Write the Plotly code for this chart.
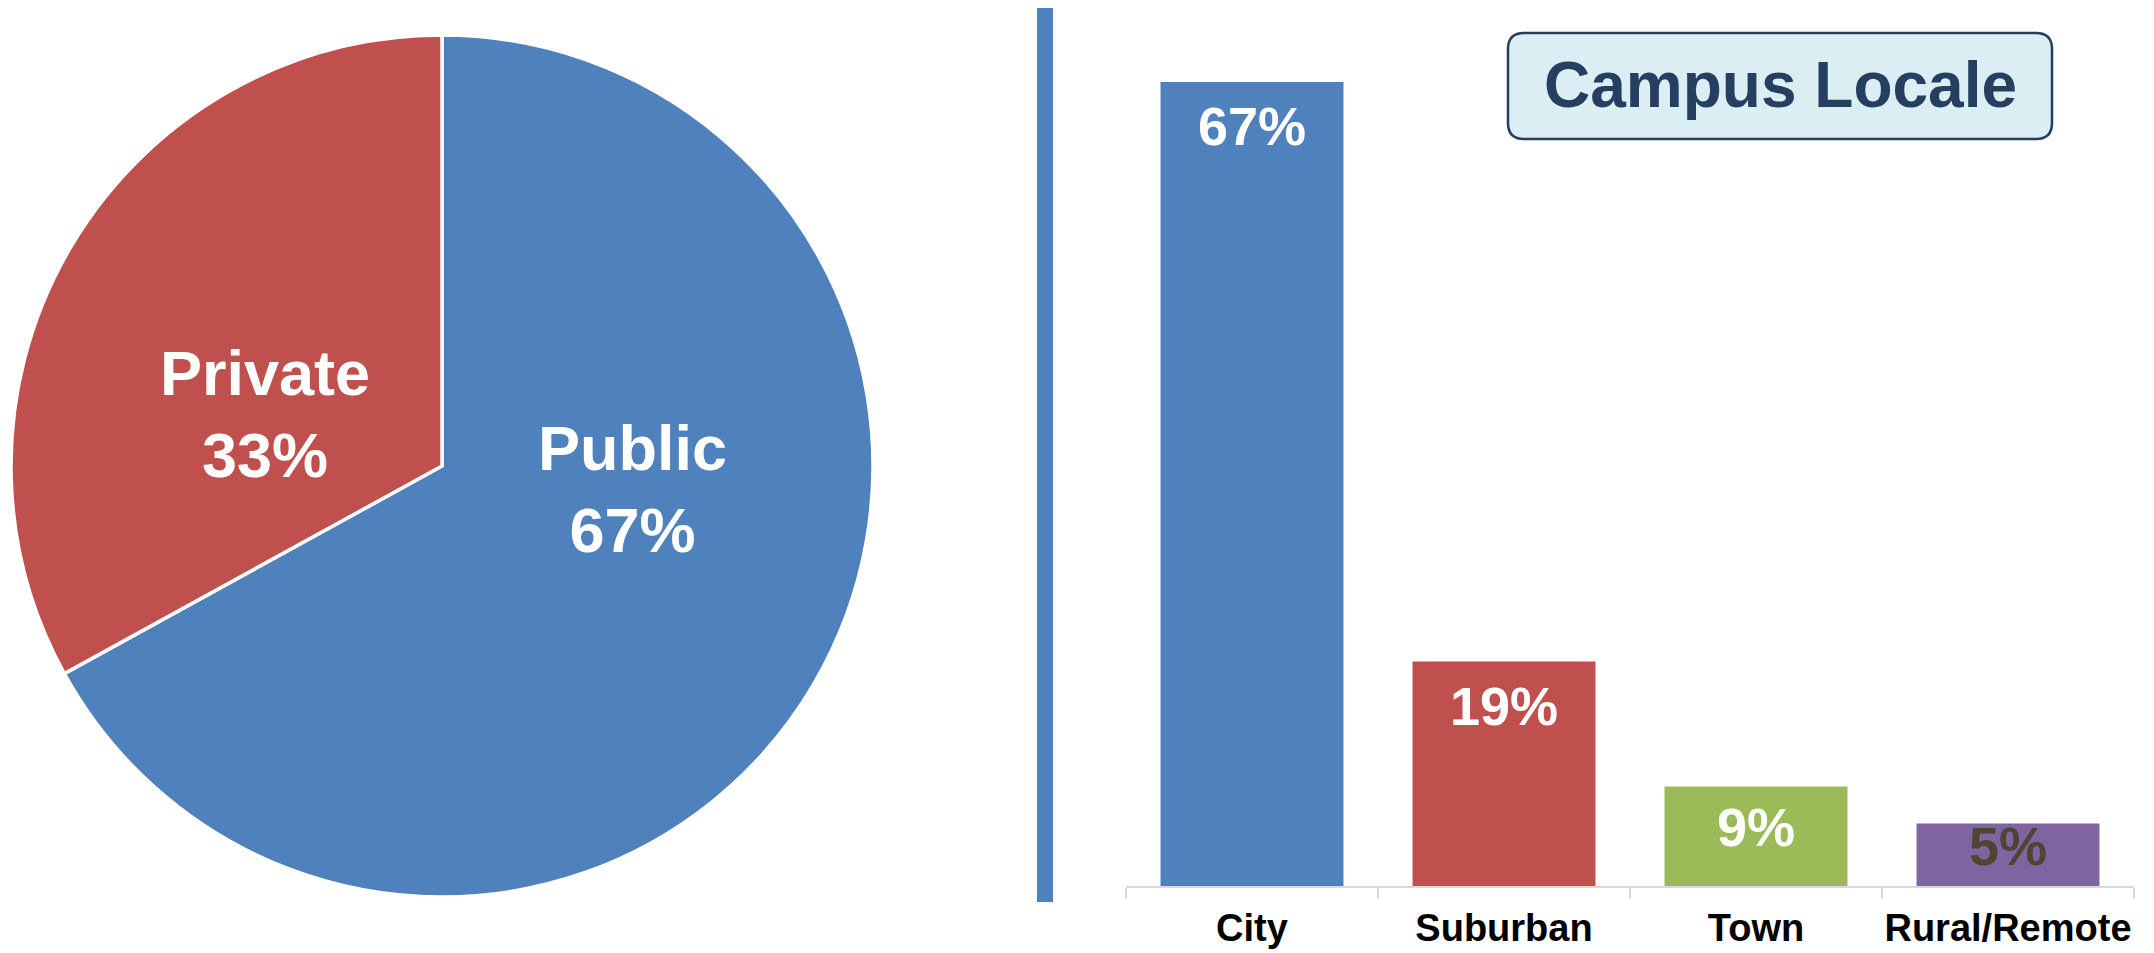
import plotly.graph_objects as go

W, H = 2154, 953

# ---- data ----
pie_labels = ["Public", "Private"]
pie_values = [67, 33]
pie_colors = ["#4F81BD", "#C0504D"]

bar_categories = ["City", "Suburban", "Town", "Rural/Remote"]
bar_values = [67, 18.7, 8.3, 5.2]
bar_text = ["67%", "19%", "9%", "5%"]
bar_colors = ["#4F81BD", "#C0504D", "#9BBB59", "#8064A2"]
bar_text_colors = ["white", "white", "white", "#4D4632"]

title_text = "Campus Locale"

FONT = "Liberation Sans, Arial, Helvetica, sans-serif"


def px_x(p):
    return p / W


def px_y(p):
    return 1 - p / H


fig = go.Figure()

# ---- pie ----
pie_cx, pie_cy, pie_r = 442, 466, 431
fig.add_trace(go.Pie(
    labels=pie_labels, values=pie_values, sort=False, direction="clockwise",
    rotation=0, textinfo="none", hoverinfo="label+percent",
    marker=dict(colors=pie_colors, line=dict(color="white", width=3.5)),
    domain=dict(x=[px_x(pie_cx - pie_r), px_x(pie_cx + pie_r)],
                y=[px_y(pie_cy + pie_r), px_y(pie_cy - pie_r)]),
    showlegend=False,
))

pie_label_pos = {"Public": (632, 489), "Private": (265, 414)}
for lab, val in zip(pie_labels, pie_values):
    x, y = pie_label_pos[lab]
    fig.add_annotation(
        xref="paper", yref="paper", x=px_x(x), y=px_y(y),
        text=f"{lab}<br>{val}%", showarrow=False, xanchor="center", yanchor="middle",
        font=dict(family=FONT, size=63, color="white", weight="bold"),
    )

# ---- bars ----
plot_left, plot_right = 1126, 2134
plot_bottom = 886
yr = 70
px_per_unit = 12.0
plot_top = plot_bottom - yr * px_per_unit

fig.add_trace(go.Bar(
    x=bar_categories, y=bar_values, marker=dict(color=bar_colors, line=dict(width=0)),
    xaxis="x", yaxis="y", showlegend=False, hoverinfo="x+y",
))

for cat, val, txt, col in zip(bar_categories, bar_values, bar_text, bar_text_colors):
    hpx = val * px_per_unit
    off = min(44, hpx / 2 - 9)
    fig.add_annotation(
        xref="x", yref="y", x=cat, y=val, yshift=-off, text=txt, showarrow=False,
        xanchor="center", yanchor="middle",
        font=dict(family=FONT, size=54, color=col, weight="bold"),
    )

# ---- divider line ----
fig.add_shape(type="rect", xref="paper", yref="paper",
              x0=px_x(1037), x1=px_x(1053), y0=px_y(902), y1=px_y(8),
              fillcolor="#4F81BD", line=dict(width=0))

# ---- title box (rounded) ----
bx0, bx1, by0, by1, rad = 1508, 2052, 33, 139, 16
rx, ry = rad / W, rad / H
X0, X1, Y0, Y1 = px_x(bx0), px_x(bx1), px_y(by1), px_y(by0)
path = (f"M {X0+rx},{Y0} L {X1-rx},{Y0} Q {X1},{Y0} {X1},{Y0+ry} "
        f"L {X1},{Y1-ry} Q {X1},{Y1} {X1-rx},{Y1} L {X0+rx},{Y1} "
        f"Q {X0},{Y1} {X0},{Y1-ry} L {X0},{Y0+ry} Q {X0},{Y0} {X0+rx},{Y0} Z")
fig.add_shape(type="path", xref="paper", yref="paper", path=path,
              fillcolor="#DBEEF4", line=dict(color="#243F60", width=2.5))
fig.add_annotation(
    xref="paper", yref="paper", x=px_x((bx0 + bx1) / 2), y=px_y(85),
    text=title_text, showarrow=False, xanchor="center", yanchor="middle",
    font=dict(family=FONT, size=64, color="#243F60", weight="bold"),
)

fig.update_layout(
    width=W, height=H, margin=dict(l=0, r=0, t=0, b=0, autoexpand=False),
    paper_bgcolor="white", plot_bgcolor="white",
    bargap=0.274,
    xaxis=dict(domain=[px_x(plot_left), px_x(plot_right)], type="category",
               range=[-0.5, 3.5], showgrid=False, zeroline=False,
               showline=True, linecolor="#D9D9D9", linewidth=2,
               ticks="outside", tickson="boundaries", ticklen=11,
               tickcolor="#D9D9D9", tickwidth=2, ticklabelstandoff=7,
               tickangle=0, automargin=False,
               tickfont=dict(family=FONT, size=38, color="black", weight="bold")),
    yaxis=dict(domain=[px_y(plot_bottom), px_y(plot_top)], range=[0, yr],
               showgrid=False, zeroline=False, showline=False,
               showticklabels=False, ticks="", automargin=False),
)

fig.write_html("out.html")
